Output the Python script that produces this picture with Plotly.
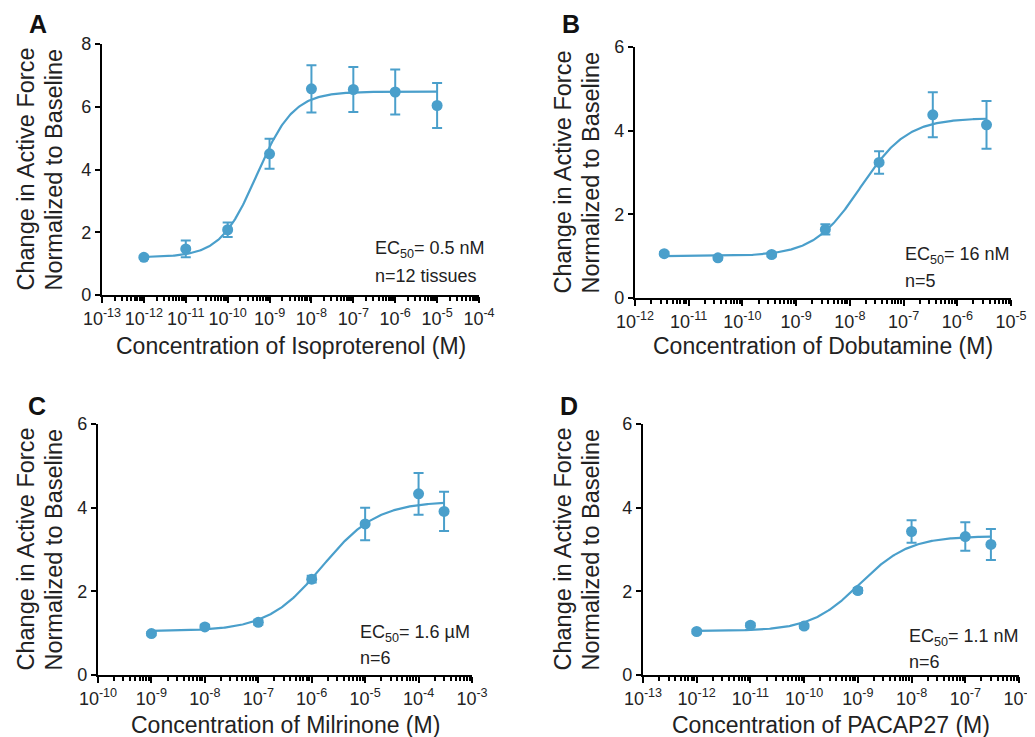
import numpy as np
import plotly.graph_objects as go

# The page body has an 8 px default margin, so the figure is drawn 8 px smaller
# and all reference pixel positions are shifted by that offset.
PAGE_W, PAGE_H = 1035, 737
OFF = 8
W, H = PAGE_W - OFF, PAGE_H - OFF
BLUE = "#4a9fcb"
FONT = "Liberation Sans, Arial, sans-serif"

# ---------------- data ----------------
# Panel A: Isoproterenol
iso_conc = [1e-12, 1e-11, 1e-10, 1e-9, 1e-8, 1e-7, 1e-6, 1e-5]
iso_mean = [1.20, 1.47, 2.08, 4.50, 6.57, 6.55, 6.47, 6.04]
iso_sem = [0.05, 0.27, 0.23, 0.48, 0.75, 0.72, 0.72, 0.72]
iso_fit = dict(bottom=1.2, top=6.48, logec50=-9.3, hill=1.0)

# Panel B: Dobutamine
dob_conc = [3.5e-12, 3.5e-11, 3.5e-10, 3.5e-9, 3.5e-8, 3.5e-7, 3.5e-6]
dob_mean = [1.06, 0.96, 1.04, 1.64, 3.24, 4.38, 4.14]
dob_sem = [0.04, 0.04, 0.05, 0.12, 0.27, 0.54, 0.57]
dob_fit = dict(bottom=1.0, top=4.3, logec50=-7.8, hill=1.0)

# Panel C: Milrinone
mil_conc = [1e-9, 1e-8, 1e-7, 1e-6, 1e-5, 1e-4, 3e-4]
mil_mean = [0.99, 1.15, 1.26, 2.29, 3.61, 4.33, 3.91]
mil_sem = [0.04, 0.05, 0.06, 0.08, 0.39, 0.50, 0.47]
mil_fit = dict(bottom=1.05, top=4.15, logec50=-5.8, hill=0.85)

# Panel D: PACAP27
pac_conc = [1e-12, 1e-11, 1e-10, 1e-9, 1e-8, 1e-7, 3e-7]
pac_mean = [1.04, 1.19, 1.17, 2.02, 3.43, 3.31, 3.12]
pac_sem = [0.04, 0.05, 0.05, 0.06, 0.27, 0.34, 0.37]
pac_fit = dict(bottom=1.05, top=3.32, logec50=-8.96, hill=0.95)

panel_letters = ["A", "B", "C", "D"]
x_titles = ["Concentration of Isoproterenol (M)", "Concentration of Dobutamine (M)",
            "Concentration of Milrinone (M)", "Concentration of PACAP27 (M)"]
ec50_labels = ["EC<sub>50</sub>= 0.5 nM", "EC<sub>50</sub>= 16 nM",
               "EC<sub>50</sub>= 1.6 \u00b5M", "EC<sub>50</sub>= 1.1 nM"]
n_labels = ["n=12 tissues", "n=5", "n=6", "n=6"]
x_decades = [(-13, -4), (-12, -5), (-10, -3), (-13, -6)]
y_max = [8, 6, 6, 6]
y_title_lines = ["Change in Active Force", "Normalized to Baseline"]

# ---------------- layout geometry (reference page pixels) ----------------
# plot area: (left, right, top, bottom)
boxes = [(102, 479, 44, 295), (635, 1011, 47, 298),
         (98, 472, 424, 675), (643, 1019, 424, 675)]
ytitle_x = [(25, 53), (562, 590), (25, 53), (562, 590)]
xtitle_y = [346, 346, 725, 725]
letter_pos = [(38, 24), (571, 24), (37, 406), (569, 406)]
ann_pos = [(373, 249, 276), (903, 256, 281), (358, 633, 658), (907, 637, 662)]

datasets = [(iso_conc, iso_mean, iso_sem, iso_fit),
            (dob_conc, dob_mean, dob_sem, dob_fit),
            (mil_conc, mil_mean, mil_sem, mil_fit),
            (pac_conc, pac_mean, pac_sem, pac_fit)]


def px_x(p):
    return (p - OFF) / W


def px_y(p):
    return 1 - (p - OFF) / H


def four_pl(x, bottom, top, logec50, hill):
    return bottom + (top - bottom) / (1 + 10 ** ((logec50 - np.log10(x)) * hill))


fig = go.Figure()
annotations = []
TXT = "#222"

for i, (conc, mean, sem, fit) in enumerate(datasets):
    xa = "x" if i == 0 else f"x{i+1}"
    ya = "y" if i == 0 else f"y{i+1}"
    xcurve = np.logspace(np.log10(conc[0]), np.log10(conc[-1]), 300)
    ycurve = four_pl(xcurve, **fit)
    fig.add_trace(go.Scatter(x=xcurve, y=ycurve, mode="lines",
                             line=dict(color=BLUE, width=2.2),
                             xaxis=xa, yaxis=ya, showlegend=False,
                             hoverinfo="skip", cliponaxis=False))
    fig.add_trace(go.Scatter(x=conc, y=mean, mode="markers",
                             marker=dict(color=BLUE, size=11),
                             error_y=dict(type="data", array=sem, color=BLUE,
                                          thickness=2, width=5),
                             xaxis=xa, yaxis=ya, showlegend=False,
                             cliponaxis=False))

    l, r, t, b = boxes[i]
    d0, d1 = x_decades[i]
    decs = list(range(d0, d1 + 1))
    minor_vals = [m * 10.0 ** k for k in range(d0, d1) for m in range(2, 10)]
    xkey = "xaxis" if i == 0 else f"xaxis{i+1}"
    ykey = "yaxis" if i == 0 else f"yaxis{i+1}"
    fig.update_layout(**{
        xkey: dict(type="log", domain=[px_x(l), px_x(r)], range=[d0, d1],
                   anchor=ya, showgrid=False, zeroline=False, automargin=False,
                   showline=True, linecolor="black", linewidth=2.2,
                   ticks="outside", ticklen=6, tickwidth=2, tickcolor="black",
                   tickvals=[10.0 ** k for k in decs],
                   ticktext=[f"10<sup>{k}</sup>" for k in decs],
                   tickfont=dict(family=FONT, size=18, color=TXT),
                   minor=dict(tickvals=minor_vals, ticks="outside", ticklen=4,
                              tickwidth=1.5, tickcolor="black", showgrid=False),
                   fixedrange=True),
        ykey: dict(domain=[px_y(b), px_y(t)], range=[0, y_max[i]], anchor=xa,
                   dtick=2, showgrid=False, zeroline=False, automargin=False,
                   showline=True, linecolor="black", linewidth=2.2,
                   ticks="outside", ticklen=5, tickwidth=2, tickcolor="black",
                   tickfont=dict(family=FONT, size=18, color=TXT),
                   fixedrange=True),
    })

    for line_txt, lx_ in zip(y_title_lines, ytitle_x[i]):
        annotations.append(dict(text=line_txt, x=px_x(lx_), y=px_y((t + b) / 2),
                                xref="paper", yref="paper", showarrow=False, textangle=-90,
                                xanchor="center", yanchor="middle",
                                font=dict(family=FONT, size=23.5, color=TXT)))
    annotations.append(dict(text=x_titles[i], x=px_x((l + r) / 2), y=px_y(xtitle_y[i]),
                            xref="paper", yref="paper", showarrow=False,
                            xanchor="center", yanchor="middle",
                            font=dict(family=FONT, size=23, color=TXT)))
    lx, ly = letter_pos[i]
    annotations.append(dict(text=f"<b>{panel_letters[i]}</b>", x=px_x(lx), y=px_y(ly),
                            xref="paper", yref="paper", showarrow=False,
                            xanchor="center", yanchor="middle",
                            font=dict(family=FONT, size=25, color="#111")))
    ax, ey, ny = ann_pos[i]
    annotations.append(dict(text=ec50_labels[i], x=px_x(ax), y=px_y(ey),
                            xref="paper", yref="paper", showarrow=False,
                            xanchor="left", yanchor="middle",
                            font=dict(family=FONT, size=18, color=TXT)))
    annotations.append(dict(text=n_labels[i], x=px_x(ax), y=px_y(ny),
                            xref="paper", yref="paper", showarrow=False,
                            xanchor="left", yanchor="middle",
                            font=dict(family=FONT, size=18, color=TXT)))

fig.update_layout(width=W, height=H, margin=dict(l=0, r=0, t=0, b=0),
                  plot_bgcolor="white", paper_bgcolor="white",
                  annotations=annotations, showlegend=False)

fig.write_html("out.html")
